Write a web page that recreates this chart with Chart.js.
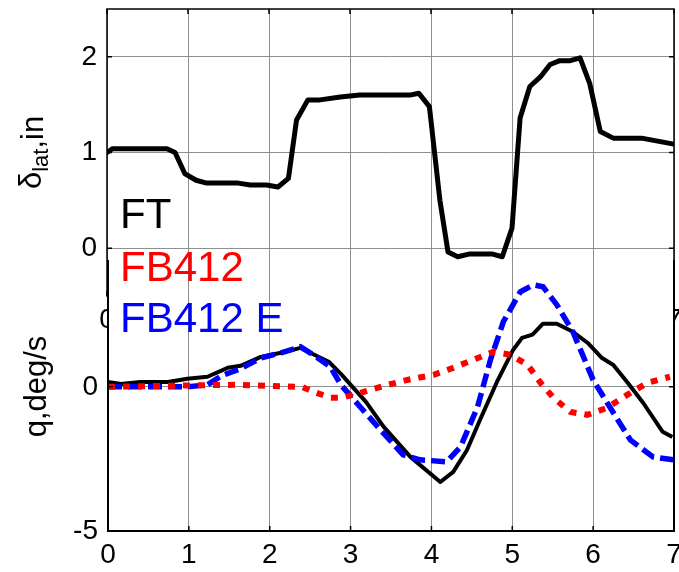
<!DOCTYPE html>
<html><head><meta charset="utf-8">
<script src="https://cdn.jsdelivr.net/npm/chart.js@4"></script>
<style>
html,body{margin:0;padding:0;background:#fff;}
#wrap{position:relative;width:679px;height:572px;}
canvas{position:absolute;left:0;top:0;}
</style>
</head><body>
<div id="wrap"><canvas id="c1" width="679" height="572"></canvas><canvas id="c2" width="679" height="572"></canvas></div>
<script>
// ---- data ----
const xTicks = [0, 1, 2, 3, 4, 5, 6, 7];
const topYTicks = [0, 1, 2];
const botYTicks = [-5, 0];

const latT = [0, 0.07, 0.74, 0.84, 0.96, 1.1, 1.23, 1.62, 1.77, 1.97, 2.11, 2.24, 2.34, 2.48, 2.63, 2.88, 3.12, 3.74, 3.85, 3.98, 4.11, 4.21, 4.33, 4.48, 4.75, 4.88, 5.0, 5.1, 5.22, 5.35, 5.47, 5.59, 5.72, 5.84, 5.96, 6.09, 6.25, 6.6, 6.98];
const latV = [1.0, 1.04, 1.04, 1.0, 0.78, 0.71, 0.68, 0.68, 0.66, 0.66, 0.64, 0.73, 1.34, 1.55, 1.55, 1.58, 1.60, 1.60, 1.62, 1.48, 0.5, -0.04, -0.09, -0.06, -0.06, -0.09, 0.21, 1.36, 1.69, 1.79, 1.92, 1.96, 1.96, 1.99, 1.72, 1.22, 1.15, 1.15, 1.09];

const ftT = [0, 0.16, 0.4, 0.74, 0.98, 1.23, 1.48, 1.64, 1.89, 2.14, 2.38, 2.73, 2.88, 3.19, 3.41, 3.74, 4.11, 4.27, 4.44, 4.6, 4.81, 5.01, 5.12, 5.25, 5.38, 5.55, 5.75, 5.93, 6.11, 6.25, 6.42, 6.62, 6.86, 6.98];
const ftQ = [0.17, 0.1, 0.17, 0.17, 0.28, 0.35, 0.66, 0.73, 1.04, 1.18, 1.35, 0.87, 0.45, -0.52, -1.39, -2.43, -3.3, -2.95, -2.19, -1.15, 0.17, 1.28, 1.7, 1.81, 2.19, 2.19, 1.91, 1.53, 1.0, 0.76, 0.17, -0.56, -1.56, -1.74];

const fbT = [0, 1.0, 1.6, 2.4, 2.54, 2.75, 2.88, 3.12, 3.46, 3.7, 4.03, 4.27, 4.52, 4.77, 4.98, 5.19, 5.35, 5.51, 5.72, 5.93, 6.17, 6.42, 6.67, 6.95];
const fbQ = [0, 0.05, 0.07, 0, -0.17, -0.38, -0.38, -0.21, 0.07, 0.24, 0.42, 0.66, 0.94, 1.22, 1.11, 0.76, 0.14, -0.38, -0.87, -0.97, -0.73, -0.28, 0.14, 0.35];

const fbeT = [0, 0.98, 1.23, 1.4, 1.64, 1.89, 2.14, 2.38, 2.54, 2.75, 2.88, 3.12, 3.37, 3.65, 3.86, 4.19, 4.36, 4.57, 4.73, 4.89, 5.1, 5.26, 5.38, 5.55, 5.75, 6.0, 6.25, 6.46, 6.74, 6.99];
const fbeQ = [0, 0, 0.07, 0.38, 0.63, 1.0, 1.18, 1.39, 1.11, 0.7, 0.07, -0.7, -1.49, -2.36, -2.53, -2.6, -2.08, -0.7, 0.94, 2.26, 3.3, 3.54, 3.47, 2.85, 1.91, 0.24, -0.9, -1.84, -2.43, -2.53];

const seriesNames = ['FT', 'FB412', 'FB412 E'];
const seriesColors = ['#000000', '#ff0000', '#0000ff'];

// ---- helpers ----
const FONT = '"Liberation Sans", Arial, Helvetica, sans-serif';
const pts = (t, v) => t.map((x, i) => ({x: x, y: v[i]}));
const setTicks = arr => s => { s.ticks = arr.map(v => ({value: v})); };
Chart.defaults.font.family = FONT;

const framePlugin = {
  id: 'frame',
  beforeDraw(chart, args, o) {
    if (!o.fill) return;
    const a = chart.chartArea, c = chart.ctx;
    c.save(); c.fillStyle = '#fff';
    c.fillRect(a.left, a.top, a.right - a.left, a.bottom - a.top);
    c.restore();
  },
  afterDatasetsDraw(chart, args, o) {
    const a = chart.chartArea, c = chart.ctx;
    const sx = chart.scales.x, sy = chart.scales.y;
    c.save();
    c.strokeStyle = '#000'; c.lineWidth = o.lw || 1.5;
    c.beginPath();
    if (o.noTop) {
      c.moveTo(a.left, a.top); c.lineTo(a.left, a.bottom);
      c.lineTo(a.right, a.bottom); c.lineTo(a.right, a.top);
    } else {
      c.rect(a.left, a.top, a.right - a.left, a.bottom - a.top);
    }
    c.stroke();
    c.lineWidth = 1.5;
    c.beginPath();
    xTicks.forEach(v => {
      const p = sx.getPixelForValue(v);
      if (!o.noTop) { c.moveTo(p, a.top); c.lineTo(p, a.top + 5); }
      c.moveTo(p, a.bottom); c.lineTo(p, a.bottom - 5);
    });
    o.yt.forEach(v => {
      const p = sy.getPixelForValue(v);
      c.moveTo(a.left, p); c.lineTo(a.left + 5, p);
      c.moveTo(a.right, p); c.lineTo(a.right - 5, p);
    });
    c.stroke();
    c.restore();
  },
  afterDraw(chart, args, o) {
    const c = chart.ctx, a = chart.chartArea;
    c.save();
    c.fillStyle = '#000';
    c.textBaseline = 'alphabetic';
    if (o.title === 'lat') {
      const cy = (a.top + a.bottom) / 2;
      c.translate(43, cy); c.rotate(-Math.PI / 2);
      const f1 = '31px ' + FONT, f2 = '22px ' + FONT;
      c.font = f1; const w1 = c.measureText('δ').width;
      c.font = f2; const w2 = c.measureText('lat').width;
      c.font = f1; const w3 = c.measureText(',in').width;
      let x = -(w1 + w2 + w3) / 2;
      c.font = f1; c.fillText('δ', x, -2); x += w1;
      c.font = f2; c.fillText('lat', x, 5); x += w2;
      c.font = f1; c.fillText(',in', x, 0);
    } else if (o.title === 'q') {
      const cy = (a.top + a.bottom) / 2 - 9;
      c.translate(46, cy); c.rotate(-Math.PI / 2);
      c.font = '31px ' + FONT; c.textAlign = 'center';
      c.fillText('q,deg/s', 0, 0);
    }
    c.restore();
    if (o.legend) {
      c.save();
      c.font = '42px ' + FONT;
      c.textBaseline = 'alphabetic';
      const base = [228, 281, 332];
      chart.data.datasets.forEach((d, i) => {
        c.fillStyle = d.borderColor;
        c.fillText(d.label, 120, base[i]);
      });
      c.restore();
    }
  }
};

const tickFont = {family: FONT, size: 28};
const gridCfg = {color: '#8f8f8f', lineWidth: 1, drawTicks: false};

function xScale(h) {
  return {
    type: 'linear', min: 0, max: 7,
    afterBuildTicks: setTicks(xTicks),
    ticks: {font: tickFont, color: '#000', padding: 7, maxRotation: 0, autoSkip: false},
    grid: gridCfg, border: {display: false},
    afterFit(s) { s.height = h; s.paddingLeft = 0; s.paddingRight = 0; }
  };
}
function yScale(min, max, ticks, w) {
  return {
    type: 'linear', min: min, max: max,
    afterBuildTicks: setTicks(ticks),
    ticks: {font: tickFont, color: '#000', padding: 10},
    grid: gridCfg, border: {display: false},
    afterFit(s) { s.width = w; s.paddingTop = 0; s.paddingBottom = 0; }
  };
}

new Chart(document.getElementById('c1'), {
  type: 'line',
  data: {datasets: [{
    label: 'δlat', data: pts(latT, latV), borderColor: '#000', borderWidth: 5,
    pointRadius: 0, tension: 0, borderJoinStyle: 'round', borderCapStyle: 'round'
  }]},
  options: {
    responsive: false, animation: false, devicePixelRatio: 1,
    layout: {padding: {left: 0, right: 5, top: 9, bottom: 0}},
    scales: {x: xScale(276), y: yScale(-0.5, 2.5, topYTicks, 107)},
    plugins: {legend: {display: false}, tooltip: {enabled: false},
      frame: {fill: false, yt: topYTicks, title: 'lat', lw: 1.5}}
  },
  plugins: [framePlugin]
});

new Chart(document.getElementById('c2'), {
  type: 'line',
  data: {datasets: [
    {label: seriesNames[0], data: pts(ftT, ftQ), borderColor: seriesColors[0], borderWidth: 4,
     pointRadius: 0, tension: 0, order: 3, borderJoinStyle: 'round'},
    {label: seriesNames[1], data: pts(fbT, fbQ), borderColor: seriesColors[1], borderWidth: 6,
     borderDash: [7, 8], pointRadius: 0, tension: 0, order: 1},
    {label: seriesNames[2], data: pts(fbeT, fbeQ), borderColor: seriesColors[2], borderWidth: 5.5,
     borderDash: [14, 6], pointRadius: 0, tension: 0, order: 2}
  ]},
  options: {
    responsive: false, animation: false, devicePixelRatio: 1,
    layout: {padding: {left: 0, right: 5, top: 260, bottom: 0}},
    scales: {x: xScale(41), y: yScale(-5, 4.4, botYTicks, 108)},
    plugins: {legend: {display: false}, tooltip: {enabled: false},
      frame: {fill: true, yt: botYTicks, title: 'q', lw: 2, legend: true, noTop: true}}
  },
  plugins: [framePlugin]
});
</script>
</body></html>
